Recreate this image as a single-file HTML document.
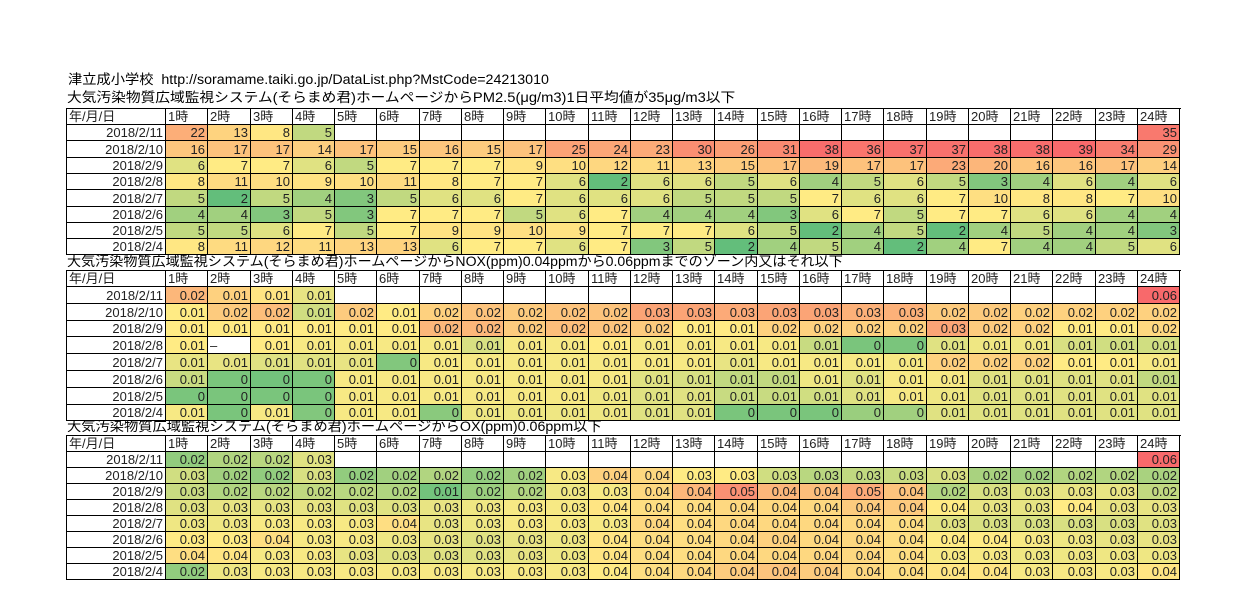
<!DOCTYPE html>
<html><head><meta charset="utf-8">
<style>
body{margin:0;background:#fff;width:1238px;height:616px;position:relative;overflow:hidden;font-family:"Liberation Sans","Noto Sans CJK JP",sans-serif;}
.t{position:absolute;font-size:13.5px;color:#000;white-space:nowrap;line-height:16px;transform-origin:0 0;}
.c{position:absolute;box-sizing:border-box;border-right:1px solid #000;border-bottom:1px solid #000;font-size:13px;color:#222;white-space:nowrap;overflow:hidden;padding:0 2px;}
.l{position:absolute;background:#000;}
</style></head><body>
<div class="t" style="left:68px;top:72px;transform:scaleX(1.055)">津立成小学校&nbsp; http://soramame.taiki.go.jp/DataList.php?MstCode=24213010</div>
<div class="t" style="left:67px;top:90px;transform:scaleX(1.09)">大気汚染物質広域監視システム(そらまめ君)ホームページからPM2.5(μg/m3)1日平均値が35μg/m3以下</div>
<div class="t" style="left:67px;top:254px;transform:scaleX(1.043)">大気汚染物質広域監視システム(そらまめ君)ホームページからNOX(ppm)0.04ppmから0.06ppmまでのゾーン内又はそれ以下</div>
<div class="t" style="left:67px;top:419px;transform:scaleX(1.055)">大気汚染物質広域監視システム(そらまめ君)ホームページからOX(ppm)0.06ppm以下</div>
<div id="root"></div>
<script>
var dates=["2018/2/11","2018/2/10","2018/2/9","2018/2/8","2018/2/7","2018/2/6","2018/2/5","2018/2/4"];
function col(t){var G=[99,190,123],Y=[255,235,132],R=[248,105,107],a,b,f;
if(t<=1){a=G;b=Y;f=t}else{a=Y;b=R;f=t-1}f=Math.max(0,Math.min(1,f));
return "rgb("+[0,1,2].map(function(i){return Math.round(a[i]+(b[i]-a[i])*f)}).join(",")+")";}
var pm=[
[22,13,8,5,null,null,null,null,null,null,null,null,null,null,null,null,null,null,null,null,null,null,null,35],
[16,17,17,14,17,15,16,15,17,25,24,23,30,26,31,38,36,37,37,38,38,39,34,29],
[6,7,7,6,5,7,7,7,9,10,12,11,13,15,17,19,17,17,23,20,16,16,17,14],
[8,11,10,9,10,11,8,7,7,6,2,6,6,5,6,4,5,6,5,3,4,6,4,6],
[5,2,5,4,3,5,6,6,7,6,6,6,5,5,5,7,6,6,7,10,8,8,7,10],
[4,4,3,5,3,7,7,7,5,6,7,4,4,4,3,6,7,5,7,7,6,6,4,4],
[5,5,6,7,5,7,9,9,10,9,7,7,7,6,5,2,4,5,2,4,5,4,4,3],
[8,11,12,11,13,13,6,7,7,6,7,3,5,2,4,5,4,2,4,7,4,4,5,6]];
var pmT=pm.map(function(r){return r.map(function(v){if(v==null)return null;return v<=7?(v-2)/5:1+(v-7)/32;})});
function N(s){return s.split(" ").map(function(x){return x=="n"?null:(x=="-"?"–":x)})}
function T(s){return s.split(" ").map(function(x){return x=="n"?null:parseFloat(x)})}
var nox=[
N(".02 .01 .01 .01 n n n n n n n n n n n n n n n n n n n .06"),
N(".01 .02 .02 .01 .02 .01 .02 .02 .02 .02 .02 .03 .03 .03 .03 .03 .03 .03 .02 .02 .02 .02 .02 .02"),
N(".01 .01 .01 .01 .01 .01 .02 .02 .02 .02 .02 .02 .01 .01 .02 .02 .02 .02 .03 .02 .02 .01 .01 .02"),
N(".01 - .01 .01 .01 .01 .01 .01 .01 .01 .01 .01 .01 .01 .01 .01 0 0 .01 .01 .01 .01 .01 .01"),
N(".01 .01 .01 .01 .01 0 .01 .01 .01 .01 .01 .01 .01 .01 .01 .01 .01 .01 .02 .02 .02 .01 .01 .01"),
N(".01 0 0 0 .01 .01 .01 .01 .01 .01 .01 .01 .01 .01 .01 .01 .01 .01 .01 .01 .01 .01 .01 .01"),
N("0 0 0 0 .01 .01 .01 .01 .01 .01 .01 .01 .01 .01 .01 .01 .01 .01 .01 .01 .01 .01 .01 .01"),
N(".01 0 .01 0 .01 .01 0 .01 .01 .01 .01 .01 .01 0 0 0 0 0 .01 .01 .01 .01 .01 .01")];
var noxT=[
T("1.4 1.2 1.05 0.85 n n n n n n n n n n n n n n n n n n n 2"),
T("1 1.25 1.35 0.7 1.25 1 1.2 1.3 1.25 1.3 1.3 1.55 1.55 1.5 1.55 1.55 1.45 1.45 1.25 1.25 1.2 1.2 1.2 1.2"),
T("1 1 1 1 1 1 1.4 1.4 1.25 1.35 1.3 1.25 1 1 1.2 1.2 1.2 1.2 1.55 1.25 1.2 1 1 1.15"),
T("1 n 1 .95 .95 .95 .95 .75 .95 .95 1 .95 .95 .95 .95 .65 .15 .15 .8 .9 .9 .75 .7 .7"),
T(".85 .85 .8 .8 .85 .2 .95 .95 .95 .95 .95 .95 .95 .85 .95 .95 .95 .95 1.2 1.2 1.2 1 1 .95"),
T(".65 .15 .1 .15 .95 .95 .95 .95 .95 .95 .95 .8 .75 .6 .6 .9 .8 .95 .95 .8 .8 .8 .8 .6"),
T(".15 .15 .15 .15 .95 .95 .95 .95 .95 .95 .9 .8 .8 .65 .65 .7 .8 .95 .9 .8 .8 .8 .8 .8"),
T(".95 .15 .95 .2 .95 .95 .25 .9 .9 .9 .9 .8 .8 .15 .15 .15 .35 .4 .8 .8 .8 .8 .8 .8")];
var ox=[
N(".02 .02 .02 .03 n n n n n n n n n n n n n n n n n n n .06"),
N(".03 .02 .02 .03 .02 .02 .02 .02 .02 .03 .04 .04 .03 .03 .03 .03 .03 .03 .03 .02 .02 .02 .02 .02"),
N(".03 .02 .02 .02 .02 .02 .01 .02 .02 .03 .03 .04 .04 .05 .04 .04 .05 .04 .02 .03 .03 .03 .03 .02"),
N(".03 .03 .03 .03 .03 .03 .03 .03 .03 .03 .04 .04 .04 .04 .04 .04 .04 .04 .04 .03 .03 .04 .03 .03"),
N(".03 .03 .03 .03 .03 .04 .03 .03 .03 .03 .03 .04 .04 .04 .04 .04 .04 .04 .03 .03 .03 .03 .03 .03"),
N(".03 .03 .04 .03 .03 .03 .03 .03 .03 .03 .04 .04 .04 .04 .04 .04 .04 .04 .04 .04 .03 .03 .03 .03"),
N(".04 .04 .03 .03 .03 .03 .03 .03 .03 .03 .04 .04 .04 .04 .04 .04 .04 .04 .03 .03 .03 .03 .03 .03"),
N(".02 .03 .03 .03 .03 .03 .03 .03 .03 .03 .04 .04 .04 .04 .04 .04 .04 .04 .04 .04 .03 .03 .03 .04")];
var oxT=[
T(".3 .5 .55 .8 n n n n n n n n n n n n n n n n n n n 2"),
T(".7 .4 .3 .75 .3 .4 .5 .3 .4 .95 1.2 1.15 1 1 .7 .55 .6 .65 .75 .45 .4 .5 .5 .45"),
T(".65 .5 .55 .6 .55 .5 .1 .35 .5 .9 .95 1.15 1.4 1.7 1.4 1.35 1.5 1.3 .5 .75 .8 .85 .85 .6"),
T(".8 .85 .85 .85 .8 .8 .85 .9 .95 .95 1.05 1.1 1.1 1.15 1.15 1.15 1.25 1.25 1 .85 .85 1 .85 .85"),
T(".9 .9 .95 .95 .95 1.1 .85 .9 .95 .95 .95 1.15 1.1 1.15 1.15 1.15 1.15 1.1 .8 .75 .75 .75 .75 .8"),
T("1 1 1.1 .95 .95 .9 .85 .8 .85 .9 1.05 1.1 1.1 1.15 1.2 1.15 1.15 1.1 1 1 .95 .9 .85 .85"),
T("1.1 1.05 .95 .95 .85 .8 .8 .8 .85 .9 1.05 1.1 1.1 1.15 1.15 1.15 1.15 1.1 .95 .95 .9 .9 .9 .9"),
T(".3 .9 .95 .95 .95 .95 .95 .95 .95 .95 1 1.1 1.15 1.25 1.3 1.25 1.15 1.1 1.05 1.05 .95 .95 .95 1.05")];
function fmt(v){if(v==null)return "";if(typeof v=="number")return String(v);if(v=="–")return v;if(v=="0")return "0";return "0"+v;}
var html="";
var X0=66,X1=165,W=42.25;
function cell(x1,x2,y1,y2,txt,bg,align){
 var l=Math.round(x1),r=Math.round(x2),t=Math.round(y1),b=Math.round(y2);
 html+='<div class="c" style="left:'+(l+1)+'px;top:'+(t+1)+'px;width:'+(r-l)+'px;height:'+(b-t)+'px;background:'+(bg||"#fff")+';text-align:'+align+';line-height:'+(b-t)+'px">'+txt+'</div>';
}
function table(top,hh,rh,data,ts){
 var hb=top+hh;
 var T0=Math.round(top),B=Math.round(hb+8*rh);
 cell(X0,X1,top,hb,"年/月/日","#fff","left");
 for(var h=0;h<24;h++)cell(X1+h*W,X1+(h+1)*W,top,hb,(h+1)+"時","#fff","left");
 for(var r=0;r<8;r++){
  var y1=hb+r*rh,y2=hb+(r+1)*rh;
  cell(X0,X1,y1,y2,dates[r],"#fff","right");
  for(var h=0;h<24;h++){
   var v=data[r][h],t=ts[r][h];
   var al=(v=="–")?"left":"right";
   cell(X1+h*W,X1+(h+1)*W,y1,y2,fmt(v),t==null?"#fff":col(t),al);
  }
 }
 html+='<div class="l" style="left:'+X0+'px;top:'+T0+'px;width:1px;height:'+(B-T0+1)+'px"></div>';
 html+='<div class="l" style="left:'+X0+'px;top:'+T0+'px;width:'+(1180-X0+1)+'px;height:1px"></div>';
}
table(107.5,16.5,16.3,pm,pmT);
table(269.5,16.5,16.8,nox,noxT);
table(434.5,16.5,16.06,ox,oxT);
document.getElementById("root").innerHTML=html;
</script>
</body></html>
